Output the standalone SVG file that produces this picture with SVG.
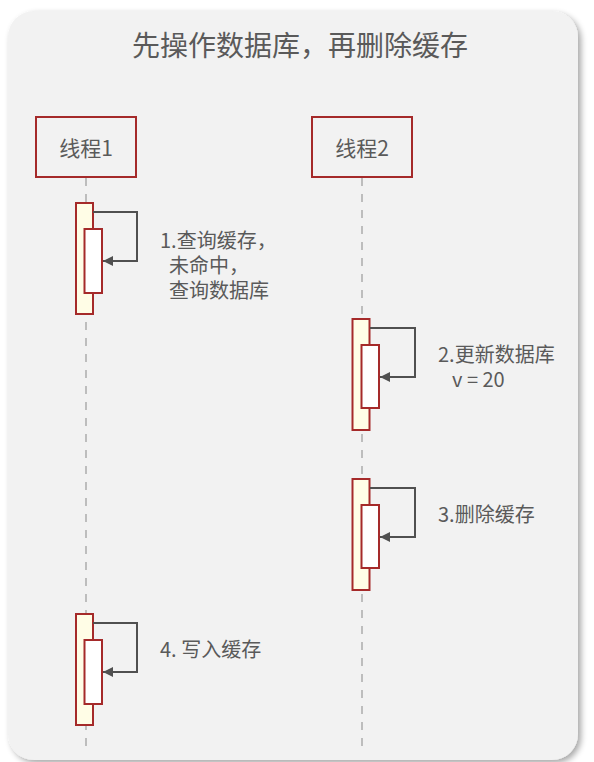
<svg xmlns="http://www.w3.org/2000/svg" width="594" height="762" viewBox="0 0 594 762">
<defs>
<filter id="sh" x="-5%" y="-5%" width="110%" height="110%">
<feGaussianBlur in="SourceAlpha" stdDeviation="3"/>
<feOffset dx="3" dy="3"/>
<feComponentTransfer><feFuncA type="linear" slope="0.35"/></feComponentTransfer>
<feMerge><feMergeNode/><feMergeNode in="SourceGraphic"/></feMerge>
</filter>
<marker id="ah" viewBox="0 0 10 10" refX="10" refY="5" markerWidth="10" markerHeight="10" markerUnits="userSpaceOnUse" orient="auto">
<path d="M0,0 L10,5 L0,10 z" fill="#505050"/>
</marker>
<style>
text{font-family:"Noto Sans CJK SC","Liberation Sans",sans-serif;fill:#5a5a5a}
.actor{fill:#f2f2f2;stroke:#a52a2a;stroke-width:2}
.act{fill:#fffde6;stroke:#a52a2a;stroke-width:2}
.inner{fill:#fff;stroke:#a52a2a;stroke-width:2}
.life{stroke:#bdbdbd;stroke-width:2;stroke-dasharray:8 8;fill:none}
.msg{stroke:#505050;stroke-width:2;fill:none}
.lbl{font-size:20px}
</style>
</defs>
<rect x="0" y="0" width="594" height="762" fill="#fff"/>
<rect x="8" y="11" width="570" height="749" rx="26" fill="#f2f2f2" filter="url(#sh)"/>
<text x="300" y="56" font-size="28" text-anchor="middle" fill="#444">先操作数据库，再删除缓存</text>
<g id="lifelines">
<line class="life" x1="86" y1="178" x2="86" y2="748"/>
<line class="life" x1="362" y1="178" x2="362" y2="748"/>
</g>
<g id="actor1">
<rect class="actor" x="36" y="117" width="100" height="60"/>
<text x="86" y="156" font-size="21" text-anchor="middle">线程1</text>
</g>
<g id="actor2">
<rect class="actor" x="312" y="117" width="100" height="60"/>
<text x="362" y="156" font-size="21" text-anchor="middle">线程2</text>
</g>
<g id="step1">
<rect class="act" x="76" y="203" width="17" height="111"/>
<rect class="inner" x="84.5" y="229" width="17.5" height="64"/>
</g>
<g id="step2">
<rect class="act" x="352.5" y="319" width="17" height="111"/>
<rect class="inner" x="361.5" y="345" width="17.5" height="63"/>
</g>
<g id="step3">
<rect class="act" x="352.5" y="479" width="17" height="111"/>
<rect class="inner" x="361.5" y="505" width="17.5" height="63"/>
</g>
<g id="step4">
<rect class="act" x="76" y="614" width="17" height="111"/>
<rect class="inner" x="84.5" y="640" width="17.5" height="64"/>
</g>
<g id="connectors">
<path class="msg" d="M93,212 H137 V261 H103" marker-end="url(#ah)"/>
<path class="msg" d="M370,328 H415 V377 H380" marker-end="url(#ah)"/>
<path class="msg" d="M370,488 H415 V537 H380" marker-end="url(#ah)"/>
<path class="msg" d="M93,623 H137 V672 H103" marker-end="url(#ah)"/>
</g>
<g id="labels">
<text class="lbl"><tspan x="160" y="248">1.查询缓存，</tspan><tspan x="169" y="273">未命中，</tspan><tspan x="169" y="298">查询数据库</tspan></text>
<text class="lbl"><tspan x="438" y="362">2.更新数据库</tspan><tspan x="452" y="387">v = 20</tspan></text>
<text class="lbl" x="438" y="522">3.删除缓存</text>
<text class="lbl" x="160" y="657">4. 写入缓存</text>
</g>
</svg>
